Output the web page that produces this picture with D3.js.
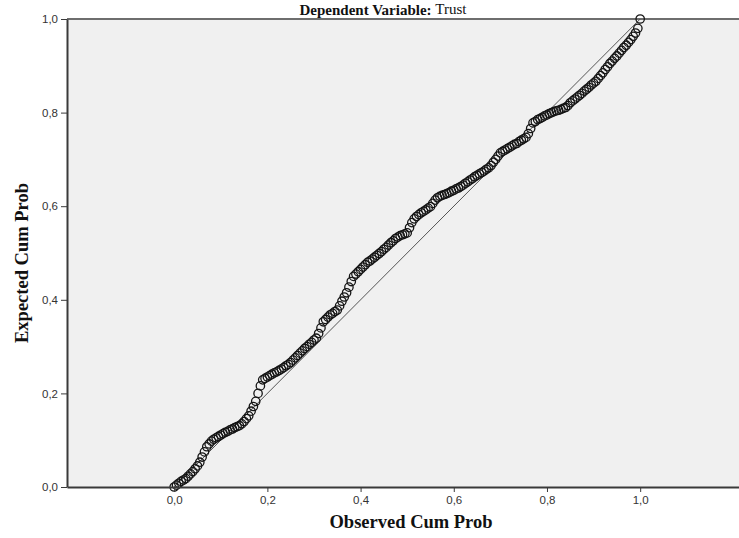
<!DOCTYPE html>
<html>
<head>
<meta charset="utf-8">
<script src="https://cdn.jsdelivr.net/npm/d3@7/dist/d3.min.js"></script>
<style>
html,body{margin:0;padding:0;background:#fff;overflow:hidden;}
svg{display:block;}
</style>
</head>
<body>
<svg id="chart" width="739" height="538"></svg>
<script>
// ---- data ----
const titleBold = "Dependent Variable:";
const titleVar = "Trust";
const xLabel = "Observed Cum Prob";
const yLabel = "Expected Cum Prob";
const xTicks = [0, 0.2, 0.4, 0.6, 0.8, 1.0];
const yTicks = [0, 0.2, 0.4, 0.6, 0.8, 1.0];

const observed = [
0.000,0.005,0.010,0.015,0.020,0.025,0.030,0.035,0.040,0.045,
0.050,0.055,0.060,0.065,0.070,0.075,0.080,0.085,0.090,0.095,
0.100,0.105,0.110,0.115,0.120,0.125,0.130,0.135,0.140,0.145,
0.150,0.155,0.160,0.165,0.170,0.175,0.180,0.185,0.190,0.195,
0.200,0.205,0.210,0.215,0.220,0.225,0.230,0.235,0.240,0.245,
0.250,0.255,0.260,0.265,0.270,0.275,0.280,0.285,0.290,0.295,
0.300,0.305,0.310,0.315,0.320,0.325,0.330,0.335,0.340,0.345,
0.350,0.355,0.360,0.365,0.370,0.375,0.380,0.385,0.390,0.395,
0.400,0.405,0.410,0.415,0.420,0.425,0.430,0.435,0.440,0.445,
0.450,0.455,0.460,0.465,0.470,0.475,0.480,0.485,0.490,0.495,
0.500,0.505,0.510,0.515,0.520,0.525,0.530,0.535,0.540,0.545,
0.550,0.555,0.560,0.565,0.570,0.575,0.580,0.585,0.590,0.595,
0.600,0.605,0.610,0.615,0.620,0.625,0.630,0.635,0.640,0.645,
0.650,0.655,0.660,0.665,0.670,0.675,0.680,0.685,0.690,0.695,
0.700,0.705,0.710,0.715,0.720,0.725,0.730,0.735,0.740,0.745,
0.750,0.755,0.760,0.765,0.770,0.775,0.780,0.785,0.790,0.795,
0.800,0.805,0.810,0.815,0.820,0.825,0.830,0.835,0.840,0.845,
0.850,0.855,0.860,0.865,0.870,0.875,0.880,0.885,0.890,0.895,
0.900,0.905,0.910,0.915,0.920,0.925,0.930,0.935,0.940,0.945,
0.950,0.955,0.960,0.965,0.970,0.975,0.980,0.985,0.990,0.995,
1.000];

const expected = [
0.000,0.004,0.008,0.012,0.015,0.018,0.023,0.028,0.033,0.039,
0.045,0.053,0.064,0.075,0.086,0.092,0.098,0.102,0.105,0.108,
0.111,0.114,0.117,0.119,0.122,0.124,0.127,0.129,0.131,0.135,
0.140,0.146,0.152,0.162,0.172,0.183,0.200,0.216,0.229,0.232,
0.235,0.238,0.241,0.244,0.246,0.249,0.252,0.255,0.259,0.262,
0.266,0.271,0.276,0.281,0.286,0.291,0.296,0.300,0.305,0.309,
0.314,0.318,0.328,0.340,0.353,0.358,0.363,0.368,0.371,0.375,
0.378,0.387,0.397,0.406,0.415,0.427,0.439,0.450,0.455,0.460,
0.465,0.470,0.475,0.480,0.483,0.487,0.491,0.495,0.499,0.503,
0.508,0.512,0.517,0.522,0.526,0.531,0.534,0.537,0.539,0.541,
0.543,0.554,0.565,0.573,0.578,0.582,0.586,0.589,0.592,0.596,
0.599,0.606,0.613,0.618,0.621,0.623,0.625,0.627,0.629,0.632,
0.634,0.637,0.639,0.642,0.645,0.649,0.652,0.656,0.659,0.663,
0.666,0.669,0.672,0.675,0.679,0.682,0.687,0.694,0.700,0.707,
0.714,0.717,0.720,0.723,0.726,0.729,0.732,0.734,0.738,0.741,
0.744,0.747,0.755,0.766,0.778,0.781,0.785,0.787,0.790,0.793,
0.795,0.798,0.800,0.802,0.804,0.805,0.807,0.809,0.811,0.815,
0.821,0.825,0.829,0.833,0.837,0.841,0.846,0.850,0.854,0.859,
0.863,0.867,0.873,0.879,0.885,0.892,0.898,0.905,0.910,0.916,
0.921,0.927,0.933,0.939,0.944,0.950,0.956,0.963,0.970,0.980,
1.000];

const refLine = [0, 1];

// ---- drawing ----
const svg = d3.select("#chart");
const plotLeft = 67, plotTop = 19, plotBottom = 487;
const pxPerUnit = 466;
const xMin = -0.23, xMax = 1.23;

const x = d3.scaleLinear().domain([xMin, xMax])
  .range([plotLeft, plotLeft + (xMax - xMin) * pxPerUnit]);
const y = d3.scaleLinear().domain([0, 1]).range([plotBottom, plotTop]);

const fmt = v => d3.format(".1f")(v).replace(".", ",");

// plot background
svg.append("rect")
  .attr("x", x(xMin)).attr("y", y(1))
  .attr("width", x(xMax) - x(xMin)).attr("height", y(0) - y(1))
  .attr("fill", "#f0f0f0");

// top border
svg.append("line")
  .attr("x1", x(xMin)).attr("x2", x(xMax))
  .attr("y1", y(1)).attr("y2", y(1))
  .attr("stroke", "#6e6e6e").attr("stroke-width", 2);

// reference diagonal
svg.append("line")
  .attr("x1", x(refLine[0])).attr("y1", y(refLine[0]))
  .attr("x2", x(refLine[1])).attr("y2", y(refLine[1]))
  .attr("stroke", "#555").attr("stroke-width", 1);

// points
const pts = observed.map((o, i) => ({o, e: expected[i]}));
svg.append("g").selectAll("circle").data(pts).join("circle")
  .attr("cx", d => x(d.o)).attr("cy", d => y(d.e))
  .attr("r", 4.2)
  .attr("fill", "none")
  .attr("stroke", "#151515")
  .attr("stroke-width", 1.3);

// axes
const yAxis = d3.axisLeft(y).tickValues(yTicks).tickFormat(fmt).tickSize(6).tickSizeOuter(0).tickPadding(3);
const gy = svg.append("g").attr("transform", `translate(${plotLeft},0)`).call(yAxis);
const xAxis = d3.axisBottom(x).tickValues(xTicks).tickFormat(fmt).tickSize(5).tickSizeOuter(0).tickPadding(4);
const gx = svg.append("g").attr("transform", `translate(0,${plotBottom})`).call(xAxis);

[gx, gy].forEach(g => {
  g.select(".domain").attr("stroke", "#3a3a3a").attr("stroke-width", 2);
  g.selectAll(".tick line").attr("stroke", "#3a3a3a").attr("stroke-width", 1);
  g.selectAll(".tick text")
    .attr("fill", "#333")
    .style("font-family", "'Liberation Sans', Arial, sans-serif")
    .style("font-size", "11.5px");
});

// title
const title = svg.append("text")
  .attr("x", 383).attr("y", 15)
  .attr("text-anchor", "middle")
  .style("font-family", "'Liberation Serif', 'Times New Roman', serif")
  .style("font-size", "15px")
  .attr("fill", "#111");
title.append("tspan").style("font-weight", "bold").text(titleBold + " ");
title.append("tspan").attr("dy", -1).style("font-weight", "normal").text(titleVar);

// axis labels
svg.append("text")
  .attr("x", 411).attr("y", 528)
  .attr("text-anchor", "middle")
  .style("font-family", "'Liberation Serif', 'Times New Roman', serif")
  .style("font-size", "18.5px").style("font-weight", "bold")
  .attr("fill", "#111")
  .text(xLabel);

svg.append("text")
  .attr("transform", "translate(28,263) rotate(-90)")
  .attr("text-anchor", "middle")
  .style("font-family", "'Liberation Serif', 'Times New Roman', serif")
  .style("font-size", "18.5px").style("font-weight", "bold")
  .attr("fill", "#111")
  .text(yLabel);
</script>
</body>
</html>
